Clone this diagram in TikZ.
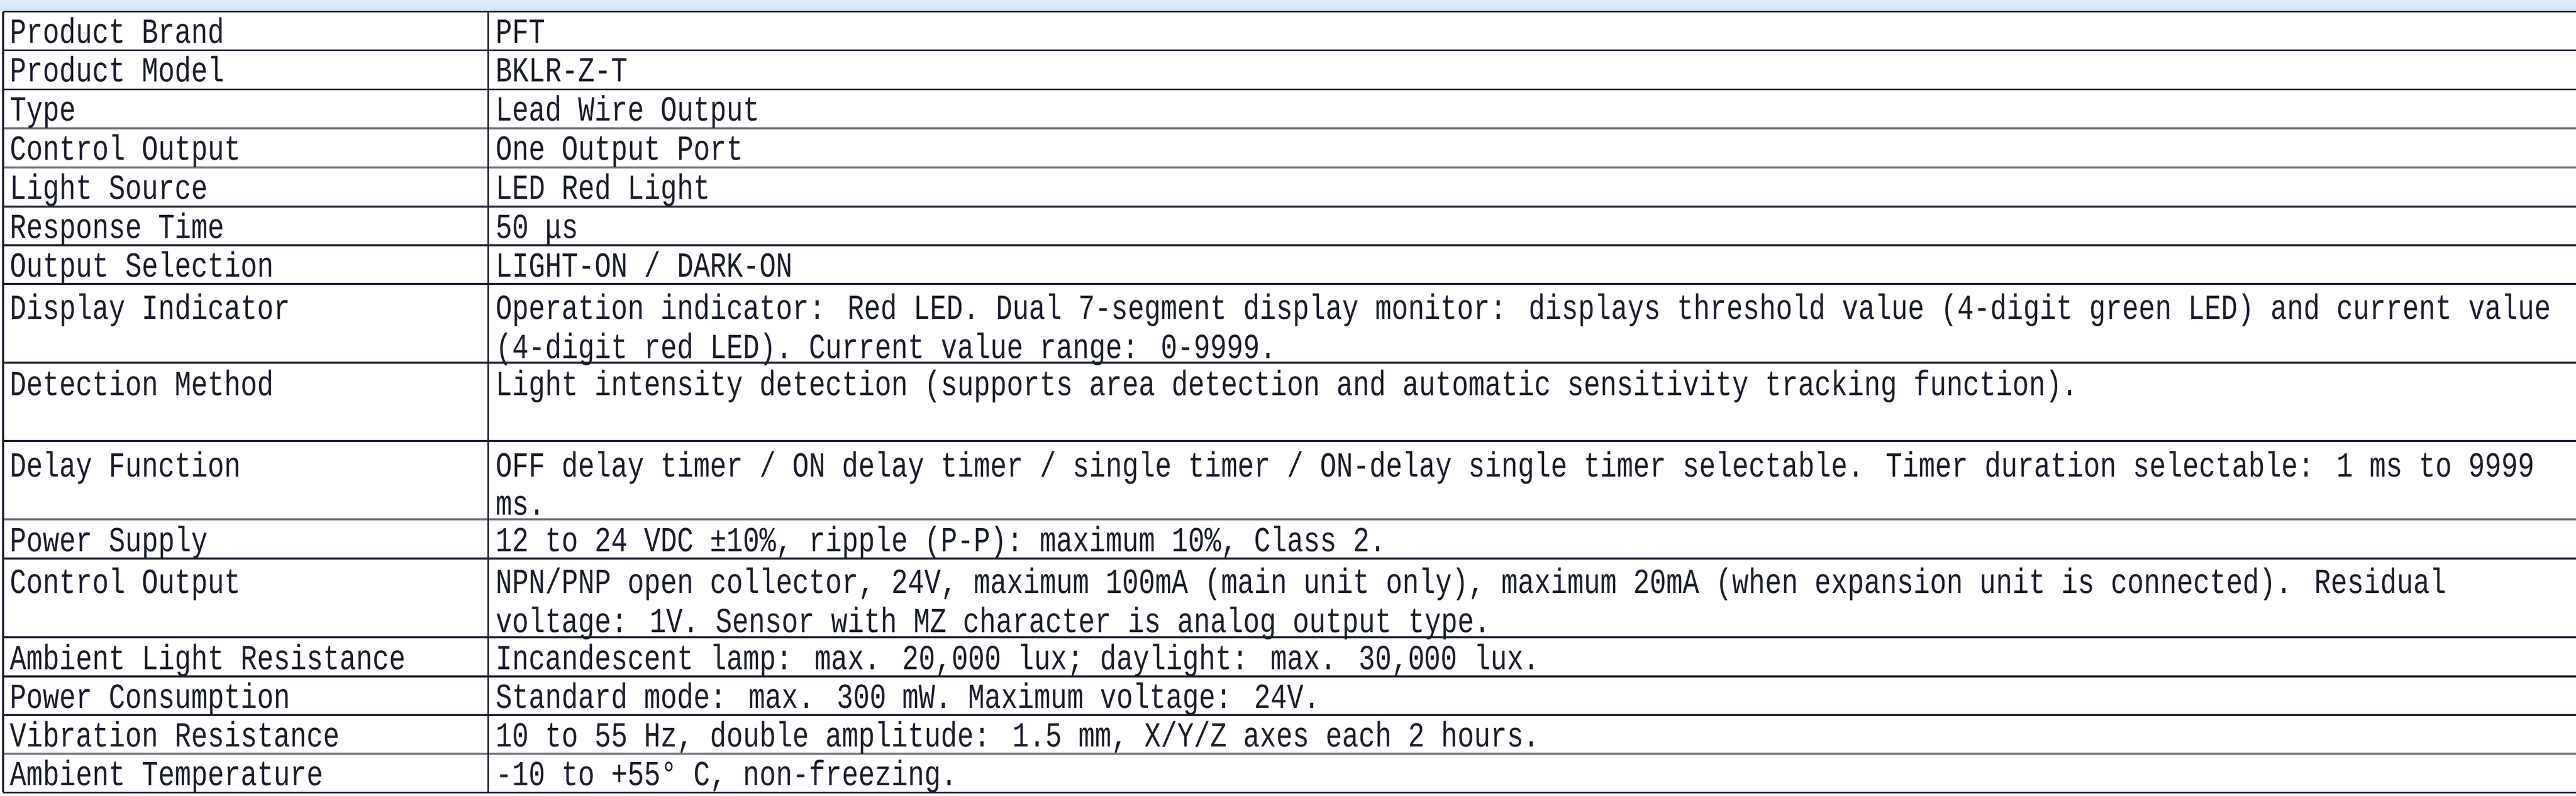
\documentclass[tikz,border=0pt]{standalone}
\usepackage{fontspec}
\setmainfont{Liberation Mono}[FakeStretch=0.78]
\usetikzlibrary{positioning}
\definecolor{rule}{HTML}{1E2232}
\definecolor{ruleg}{HTML}{707378}
\definecolor{txt}{HTML}{1A1D2A}
\definecolor{band}{HTML}{D8E7F6}

\begin{document}
\begin{tikzpicture}[
x=0.1pt, y=-0.1011pt,
  cell/.style = {anchor=base west, inner sep=0pt, text=txt, font=\fontsize{7pt}{7.7pt}\selectfont},
  grid/.style = {rule, line width=0.35pt},
 gridg/.style = {ruleg, line width=0.35pt}
                    ]
\useasboundingbox (0,0) rectangle (5120,1564.8);
\fill[top color=band!80, bottom color=band] (0,0) rectangle (5120,21);

% grid
\foreach \y in {23,99,176,406,482,558,713,867,1098,1253,1330,1406,1558}
  \draw[grid] (6,\y) -- (5120,\y);
\foreach \y in {252,329,1021,1482}
  \draw[gridg] (6,\y) -- (5120,\y);
\draw[grid] (6,23) -- (6,1558);
\draw[grid] (970,23) -- (970,1558);

% left column
\node[cell] (k1)  at (18,85)   {Product Brand};
\node[cell] (k2)  at (18,161)  {Product Model};
\node[cell] (k3)  at (18,238)  {Type};
\node[cell] (k4)  at (18,314)  {Control Output};
\node[cell] (k5)  at (18,391)  {Light Source};
\node[cell] (k6)  at (18,468)  {Response Time};
\node[cell] (k7)  at (18,544)  {Output Selection};
\node[cell] (k8)  at (18,627)  {Display Indicator};
\node[cell] (k9)  at (18,777)  {Detection Method};
\node[cell] (k10) at (18,937)  {Delay Function};
\node[cell] (k11) at (18,1084) {Power Supply};
\node[cell] (k12) at (18,1166) {Control Output};
\node[cell] (k13) at (18,1316) {Ambient Light Resistance};
\node[cell] (k14) at (18,1392) {Power Consumption};
\node[cell] (k15) at (18,1468) {Vibration Resistance};
\node[cell] (k16) at (18,1544) {Ambient Temperature};

% right column
\node[cell] (v1)  at (984,85)   {PFT};
\node[cell] (v2)  at (984,161)  {BKLR-Z-T};
\node[cell] (v3)  at (984,238)  {Lead Wire Output};
\node[cell] (v4)  at (984,314)  {One Output Port};
\node[cell] (v5)  at (984,391)  {LED Red Light};
\node[cell] (v6)  at (984,468)  {50 μs};
\node[cell] (v7)  at (984,544)  {LIGHT-ON / DARK-ON};
\node[cell] (v8)  at (984,627)  {Operation indicator: Red LED. Dual 7-segment display monitor: displays threshold value (4-digit green LED) and current value};
\node[cell] (v8b) at (984,704)  {(4-digit red LED). Current value range: 0-9999.};
\node[cell] (v9)  at (984,777)  {Light intensity detection (supports area detection and automatic sensitivity tracking function).};
\node[cell] (v10) at (984,937)  {OFF delay timer / ON delay timer / single timer / ON-delay single timer selectable. Timer duration selectable: 1 ms to 9999};
\node[cell] (v10b) at (984,1012) {ms.};
\node[cell] (v11) at (984,1084) {12 to 24 VDC ±10\%, ripple (P-P): maximum 10\%, Class 2.};
\node[cell] (v12) at (984,1166) {NPN/PNP open collector, 24V, maximum 100mA (main unit only), maximum 20mA (when expansion unit is connected). Residual};
\node[cell] (v12b) at (984,1243) {voltage: 1V. Sensor with MZ character is analog output type.};
\node[cell] (v13) at (984,1316) {Incandescent lamp: max. 20,000 lux; daylight: max. 30,000 lux.};
\node[cell] (v14) at (984,1392) {Standard mode: max. 300 mW. Maximum voltage: 24V.};
\node[cell] (v15) at (984,1468) {10 to 55 Hz, double amplitude: 1.5 mm, X/Y/Z axes each 2 hours.};
\node[cell] (v16) at (984,1544) {-10 to +55° C, non-freezing.};
\end{tikzpicture}
\end{document}
